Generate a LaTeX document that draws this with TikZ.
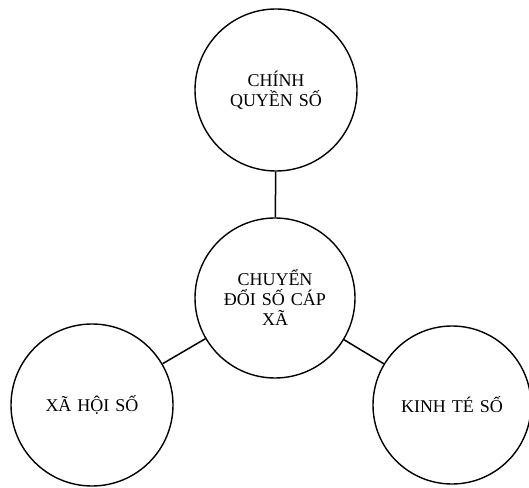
\documentclass[tikz,border=0pt]{standalone}
\usepackage{fontspec}
\setmainfont{Liberation Serif}
\usetikzlibrary{positioning}

\begin{document}
\begin{tikzpicture}[x=1pt,y=1pt,line width=1.5pt]
\tikzstyle{every node}=[font=\fontsize{18}{20}\selectfont]
\tikzstyle{vong}=[circle,draw,line width=1.4pt,minimum size=162pt,inner sep=0pt,align=center,text width=115pt]
\path[use as bounding box] (0,0) rectangle (529,487);
\path node[vong] (cq) at (276,397) {CHÍNH\\QUYỀN SỐ};
\path node[vong,minimum size=160pt] (cd) at (275,189) {CHUYỂN\\ĐỔI SỐ CÁP\\XÃ};
\path node[vong] (xh) at (92,82) {XÃ HỘI SỐ};
\path node[vong,minimum size=158pt] (kt) at (452,82) {KINH TÉ SỐ};
\path[draw] (cq) -- (cd);
\path[draw] (xh) -- (cd);
\path[draw] (kt) -- (cd);
\end{tikzpicture}
\end{document}
